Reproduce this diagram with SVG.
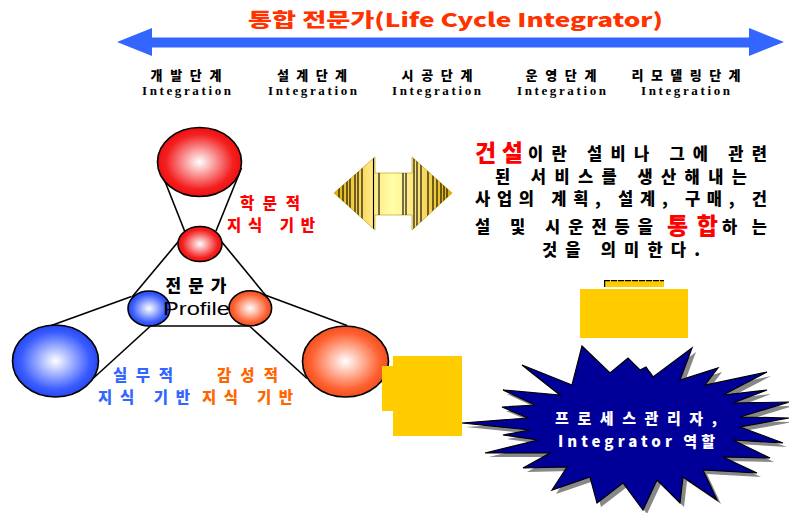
<svg xmlns="http://www.w3.org/2000/svg" width="789" height="513" viewBox="0 0 789 513">
<style>
.k{font-family:"Noto Sans CJK KR","Liberation Sans",sans-serif;font-weight:900}
.stage{font-size:13px;fill:#000;text-anchor:middle}
.integ{font-family:"Liberation Serif",serif;font-weight:700;font-size:13px;fill:#000;text-anchor:middle}
.body{font-size:16.5px;fill:#000}
.lbl{font-size:15.5px;text-anchor:middle}
.ln{stroke:#000;stroke-width:1.6;fill:none}
.circ{stroke:#000;stroke-width:1.6}
.stripe{stroke:#000;stroke-width:1.1}
.gold{fill:#FFCC00}
</style>
<defs>
<radialGradient id="gRed" cx="50%" cy="50%" r="50%">
<stop offset="0" stop-color="#FFFFFF"/>
<stop offset="0.8" stop-color="#F42020"/>
<stop offset="1" stop-color="#EE1010"/>
</radialGradient>
<radialGradient id="gBlue" cx="50%" cy="50%" r="50%">
<stop offset="0" stop-color="#FFFFFF"/>
<stop offset="0.8" stop-color="#3A5CFF"/>
<stop offset="1" stop-color="#2848F0"/>
</radialGradient>
<radialGradient id="gOr" cx="50%" cy="50%" r="50%">
<stop offset="0" stop-color="#FFFFFF"/>
<stop offset="0.8" stop-color="#FF6030"/>
<stop offset="1" stop-color="#F05020"/>
</radialGradient>
<linearGradient id="gArrow" gradientUnits="userSpaceOnUse" x1="334" y1="0" x2="452" y2="0">
<stop offset="0" stop-color="#E0B000"/>
<stop offset="0.3" stop-color="#FFE47A"/>
<stop offset="0.5" stop-color="#FFFFA8"/>
<stop offset="0.7" stop-color="#FFE47A"/>
<stop offset="1" stop-color="#E0B000"/>
</linearGradient>
<clipPath id="cpArrow">
<polygon points="334,193 375,157 375,173 412,173 412,157 452,193 412,230 412,215 375,215 375,230"/>
</clipPath>
</defs>
<rect width="789" height="513" fill="#FFFFFF"/>

<g id="title">
<text class="k" x="248" y="27" font-size="19" font-weight="700" fill="#FF3300" textLength="415" lengthAdjust="spacingAndGlyphs">통합 전문가(Life Cycle Integrator)</text>
</g>

<g id="timeline-arrow">
<polygon points="117,42 152,28 152,37.5 749,37.5 749,28 784,42 749,56 749,47.5 152,47.5 152,56" fill="#3366FF"/>
</g>

<g id="stages">
<text class="k stage" x="186" y="80" textLength="71">개발단계</text>
<text class="integ" x="186.5" y="95" textLength="89">Integration</text>
<text class="k stage" x="312" y="80" textLength="70">설계단계</text>
<text class="integ" x="312.5" y="95" textLength="89">Integration</text>
<text class="k stage" x="437" y="80" textLength="71">시공단계</text>
<text class="integ" x="436.5" y="95" textLength="89">Integration</text>
<text class="k stage" x="561" y="80" textLength="71">운영단계</text>
<text class="integ" x="561.5" y="95" textLength="89">Integration</text>
<text class="k stage" x="686" y="80" textLength="109">리모델링단계</text>
<text class="integ" x="685.5" y="95" textLength="89">Integration</text>
</g>

<g id="connectors">
<line class="ln" x1="158.5" y1="165" x2="185" y2="232"/>
<line class="ln" x1="241.5" y1="168" x2="216" y2="231"/>
<line class="ln" x1="188" y1="230" x2="132" y2="297"/>
<line class="ln" x1="212" y1="230" x2="267" y2="297"/>
<line class="ln" x1="150" y1="326" x2="250" y2="326"/>
<line class="ln" x1="131.5" y1="296.5" x2="25" y2="335"/>
<line class="ln" x1="150" y1="326.5" x2="93" y2="378.5"/>
<line class="ln" x1="265" y1="295" x2="347" y2="325.5"/>
<line class="ln" x1="250" y1="326.5" x2="307" y2="378.5"/>
</g>

<g id="node-top-big"><ellipse class="circ" cx="199.5" cy="162" rx="42" ry="34.5" fill="url(#gRed)"/></g>
<g id="node-top-small"><ellipse class="circ" cx="200" cy="244" rx="22" ry="17.5" fill="url(#gRed)"/></g>
<g id="node-blue-small"><ellipse class="circ" cx="149" cy="308.5" rx="21" ry="17.5" fill="url(#gBlue)"/></g>
<g id="node-orange-small"><ellipse class="circ" cx="250.3" cy="308.3" rx="21.3" ry="17.5" fill="url(#gOr)"/></g>
<g id="node-blue-big"><ellipse class="circ" cx="55.5" cy="361" rx="43" ry="36" fill="url(#gBlue)"/></g>
<g id="node-orange-big"><ellipse class="circ" cx="345.5" cy="361.5" rx="43" ry="35.5" fill="url(#gOr)"/></g>

<g id="labels-left">
<text class="k lbl" x="270" y="209" fill="#FF0000" textLength="60">학문적</text>
<text class="k lbl" x="271" y="231" fill="#FF0000" textLength="88">지식 기반</text>
<text class="k" x="196" y="292" font-size="17" fill="#000" text-anchor="middle" textLength="61">전문가</text>
<text x="196.5" y="315" font-family="Liberation Sans, sans-serif" font-size="19" fill="#000" text-anchor="middle" textLength="67" lengthAdjust="spacingAndGlyphs">Profile</text>
<text class="k lbl" x="143" y="381" fill="#3366FF" textLength="60">실무적</text>
<text class="k lbl" x="144" y="403" fill="#3366FF" textLength="92">지식 기반</text>
<text class="k lbl" x="247.5" y="381" fill="#FF6600" textLength="61">감성적</text>
<text class="k lbl" x="247.5" y="403" fill="#FF6600" textLength="91">지식 기반</text>
</g>

<g id="double-arrow">
<polygon points="334,193 375,157 375,173 412,173 412,157 452,193 412,230 412,215 375,215 375,230" fill="url(#gArrow)" stroke="#B89000" stroke-width="0.6"/>
<g clip-path="url(#cpArrow)">
<line class="stripe" x1="339" y1="150" x2="339" y2="240"/>
<line class="stripe" x1="343" y1="150" x2="343" y2="240"/>
<line class="stripe" x1="347" y1="150" x2="347" y2="240"/>
<line class="stripe" x1="350" y1="150" x2="350" y2="240"/>
<line class="stripe" x1="355" y1="150" x2="355" y2="240"/>
<line class="stripe" x1="358" y1="150" x2="358" y2="240"/>
<line class="stripe" x1="362" y1="150" x2="362" y2="240"/>
<line class="stripe" x1="373.5" y1="150" x2="373.5" y2="240"/>
<line class="stripe" x1="379" y1="150" x2="379" y2="240"/>
<line class="stripe" x1="403" y1="150" x2="403" y2="240"/>
<line class="stripe" x1="406" y1="150" x2="406" y2="240"/>
<line class="stripe" x1="414" y1="150" x2="414" y2="240"/>
<line class="stripe" x1="417" y1="150" x2="417" y2="240"/>
<line class="stripe" x1="421" y1="150" x2="421" y2="240"/>
<line class="stripe" x1="428" y1="150" x2="428" y2="240"/>
<line class="stripe" x1="433" y1="150" x2="433" y2="240"/>
<line class="stripe" x1="437" y1="150" x2="437" y2="240"/>
<line class="stripe" x1="441" y1="150" x2="441" y2="240"/>
<line class="stripe" x1="444" y1="150" x2="444" y2="240"/>
<line class="stripe" x1="447" y1="150" x2="447" y2="240"/>
</g>
</g>

<g id="definition-text">
<text class="k" x="475" y="161" font-size="23" fill="#FF0000" textLength="48">건설</text>
<text class="k body" x="528" y="160" textLength="239">이란 설비나 그에 관련</text>
<text class="k body" x="495" y="183" textLength="252">된 서비스를 생산해내는</text>
<text class="k body" x="475" y="205" textLength="292">사업의 계획, 설계, 구매, 건</text>
<text class="k body" x="475" y="233" textLength="178">설 및 시운전등을</text>
<text class="k" x="667" y="234" font-size="23" fill="#FF0000" textLength="51">통합</text>
<text class="k body" x="722" y="233" textLength="45">하는</text>
<text class="k body" x="542" y="256" textLength="158">것을 의미한다.</text>
</g>

<g id="yellow-box-top">
<rect class="gold" x="604" y="280" width="60" height="7"/>
<line x1="604" y1="280.6" x2="664" y2="280.6" stroke="#000" stroke-width="1.2" stroke-dasharray="6 1"/>
<line x1="604.6" y1="280" x2="604.6" y2="287" stroke="#000" stroke-width="1.2"/>
<rect class="gold" x="580" y="289" width="108" height="49"/>
</g>

<g id="yellow-box-left">
<rect class="gold" x="382" y="366" width="12" height="45"/>
<rect class="gold" x="393" y="356" width="69" height="80"/>
</g>

<g id="starburst">
<polygon transform="translate(4,4)" fill="#888888" points="582,346 610,373 628,358 640,370 646,367 653,377 692,348 680,380 718,368 705,385 767,372 723,395 767,390 733,403 789,402 740,417 789,418 740,427 783,443 733,440 770,458 723,457 757,473 703,470 717,500 683,477 680,503 657,480 643,510 623,483 597,503 590,477 552,490 567,467 523,468 550,453 485,453 538,440 503,435 530,430 462,423 528,418 502,407 535,405 503,390 560,395 522,365 572,385"/>
<polygon fill="#000099" stroke="#000" stroke-width="1.2" points="582,346 610,373 628,358 640,370 646,367 653,377 692,348 680,380 718,368 705,385 767,372 723,395 767,390 733,403 789,402 740,417 789,418 740,427 783,443 733,440 770,458 723,457 757,473 703,470 717,500 683,477 680,503 657,480 643,510 623,483 597,503 590,477 552,490 567,467 523,468 550,453 485,453 538,440 503,435 530,430 462,423 528,418 502,407 535,405 503,390 560,395 522,365 572,385"/>
<text class="k" x="636" y="424" font-size="15" fill="#FFFFFF" text-anchor="middle" textLength="162">프로세스관리자,</text>
<text class="k" x="636.5" y="447" font-size="15" fill="#FFFFFF" text-anchor="middle" textLength="157">Integrator 역할</text>
</g>
</svg>
